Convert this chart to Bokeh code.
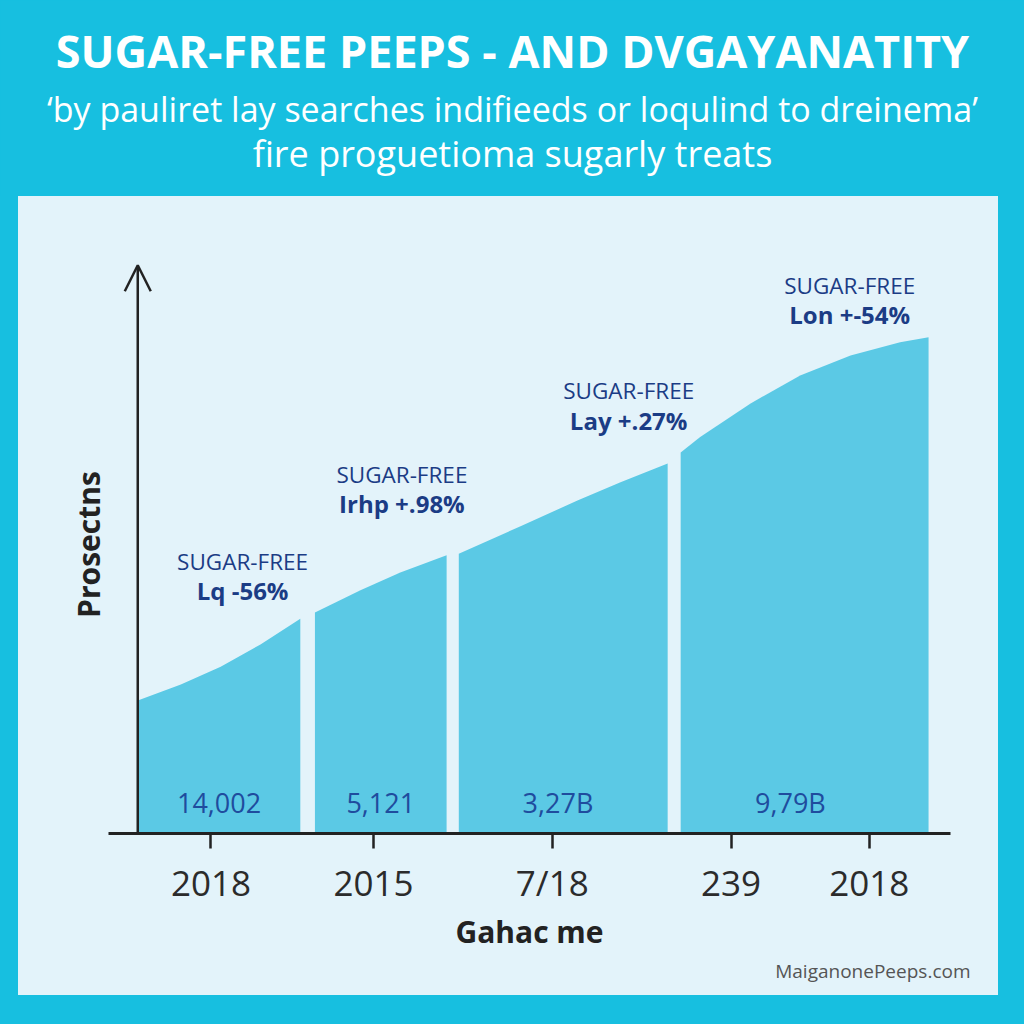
from bokeh.plotting import figure
from bokeh.layouts import column
from bokeh.models import Range1d, FixedTicker, Arrow, OpenHead, Title
from bokeh.core.properties import value
from bokeh.embed import file_html
from bokeh.resources import INLINE

# ---------------- data ----------------
title_text = "SUGAR-FREE PEEPS - AND DVGAYANATITY"
subtitle_1 = "\u2018by pauliret lay searches indifieeds or loqulind to dreinema\u2019"
subtitle_2 = "fire proguetioma sugarly treats"

seg1_x = [0, 5.3, 10.2, 15.1, 20.0]
seg1_y = [23.3, 26.1, 29.2, 33.1, 37.6]
seg2_x = [21.8, 27.4, 32.3, 38.0]
seg2_y = [38.7, 42.6, 45.7, 48.7]
seg3_x = [39.5, 47.1, 54.1, 59.4, 65.2]
seg3_y = [49.0, 53.8, 58.3, 61.5, 64.8]
seg4_x = [66.8, 69.2, 75.4, 81.5, 87.7, 93.8, 97.3]
seg4_y = [66.7, 69.4, 75.3, 80.2, 83.7, 86.0, 86.9]

value_labels = ["14,002", "5,121", "3,27B", "9,79B"]
value_x = [10.0, 29.9, 51.7, 80.3]
value_y = [5.4, 5.4, 5.4, 5.4]

note_head = ["SUGAR-FREE", "SUGAR-FREE", "SUGAR-FREE", "SUGAR-FREE"]
note_text = ["Lq -56%", "Irhp +.98%", "Lay +.27%", "Lon +-54%"]
note_x = [12.9, 32.5, 60.4, 87.6]
note_y1 = [47.6, 62.9, 77.6, 96.0]
note_y2 = [42.6, 57.8, 72.3, 90.8]

tick_pos = [9, 29, 51, 73, 90]
tick_labels = ["2018", "2015", "7/18", "239", "2018"]

x_title = "Gahac me"
y_title = "Prosectns"
watermark = "MaiganonePeeps.com"

# ---------------- styles ----------------
CYAN = "#17bfe0"
PANEL = "#e3f3fa"
AREA = "#5bc9e5"
NAVY = "#1b3c85"
VALBLUE = "#1f4c9e"
DARK = "#222222"
FONT = "Open Sans"

# ---------------- header ----------------
W = 1024
HH = 196
header = figure(width=W, height=HH, output_backend="svg", toolbar_location=None,
                x_range=Range1d(0, W), y_range=Range1d(HH, 0),
                min_border=0, outline_line_color=None,
                background_fill_color=CYAN, border_fill_color=CYAN)
header.frame_align = False
header.axis.visible = False
header.grid.visible = False
header.text(x=[W / 2], y=[50], text=[title_text], text_font=value(FONT),
            text_font_style="bold", text_font_size="45px", text_color="white",
            text_align="center", text_baseline="middle")
header.text(x=[W / 2], y=[108], text=[subtitle_1],
            text_font=value(FONT), text_font_size="34px", text_color="white",
            text_align="center", text_baseline="middle")
header.text(x=[W / 2], y=[153], text=[subtitle_2],
            text_font=value(FONT), text_font_size="36px", text_color="white",
            text_align="center", text_baseline="middle")

# ---------------- chart ----------------
CW, CH = 980, 799
p = figure(width=CW, height=CH, output_backend="svg", toolbar_location=None,
           x_range=Range1d(-3.6, 100), y_range=Range1d(0, 101.2),
           min_border_left=90, min_border_right=48, min_border_top=59,
           min_border_bottom=162, outline_line_color=None,
           background_fill_color=PANEL, border_fill_color=PANEL,
           margin=(0, 26, 29, 18), styles={"background-color": PANEL})
p.frame_align = False
p.grid.visible = False

for sx, sy in [(seg1_x, seg1_y), (seg2_x, seg2_y), (seg3_x, seg3_y), (seg4_x, seg4_y)]:
    p.varea(x=sx, y1=[0] * len(sx), y2=sy, fill_color=AREA, fill_alpha=1.0)

p.text(x=value_x, y=value_y, text=value_labels, text_font=value(FONT),
       text_font_size="27px", text_color=VALBLUE, text_align="center",
       text_baseline="middle")
p.text(x=note_x, y=note_y1, text=note_head, text_font=value(FONT),
       text_font_size="22.5px", text_color=NAVY, text_align="center",
       text_baseline="middle")
p.text(x=note_x, y=note_y2, text=note_text, text_font=value(FONT),
       text_font_size="24px", text_font_style="bold", text_color=NAVY,
       text_align="center", text_baseline="middle")

# x axis
xa = p.xaxis[0]
xa.ticker = FixedTicker(ticks=tick_pos)
xa.major_label_overrides = {t: l for t, l in zip(tick_pos, tick_labels)}
xa.minor_tick_line_color = None
xa.axis_line_width = 3
xa.axis_line_color = DARK
xa.major_tick_line_width = 2.5
xa.major_tick_line_color = DARK
xa.major_tick_out = 15
xa.major_tick_in = 0
xa.major_label_standoff = 10
xa.major_label_text_font = FONT
xa.major_label_text_font_size = "35px"
xa.major_label_text_color = "#2b2b2b"
xa.axis_label = x_title
xa.axis_label_text_font = FONT
xa.axis_label_text_font_style = "bold"
xa.axis_label_text_font_size = "30px"
xa.axis_label_text_color = DARK
xa.axis_label_standoff = 2

# y axis (line drawn as an arrow at x = 0)
ya = p.yaxis[0]
ya.ticker = FixedTicker(ticks=[])
ya.minor_tick_line_color = None
ya.major_tick_line_color = None
ya.major_label_text_font_size = "0px"
ya.axis_line_color = None
ya.axis_label = y_title
ya.axis_label_text_font = FONT
ya.axis_label_text_font_style = "bold"
ya.axis_label_text_font_size = "30px"
ya.axis_label_text_color = DARK
ya.axis_label_standoff = 0

p.add_layout(Arrow(end=OpenHead(size=26, line_color=DARK, line_width=2.5),
                   x_start=0, y_start=0, x_end=0, y_end=99.5,
                   line_color=DARK, line_width=2.5))

p.add_layout(Title(text=watermark, align="right", text_font=FONT,
                   text_font_size="19px", text_font_style="normal",
                   text_color="#555555", offset=-20, standoff=2), "below")

layout = column(header, p, styles={"background-color": CYAN})

with open("out.html", "w") as f:
    f.write(file_html(layout, INLINE))
